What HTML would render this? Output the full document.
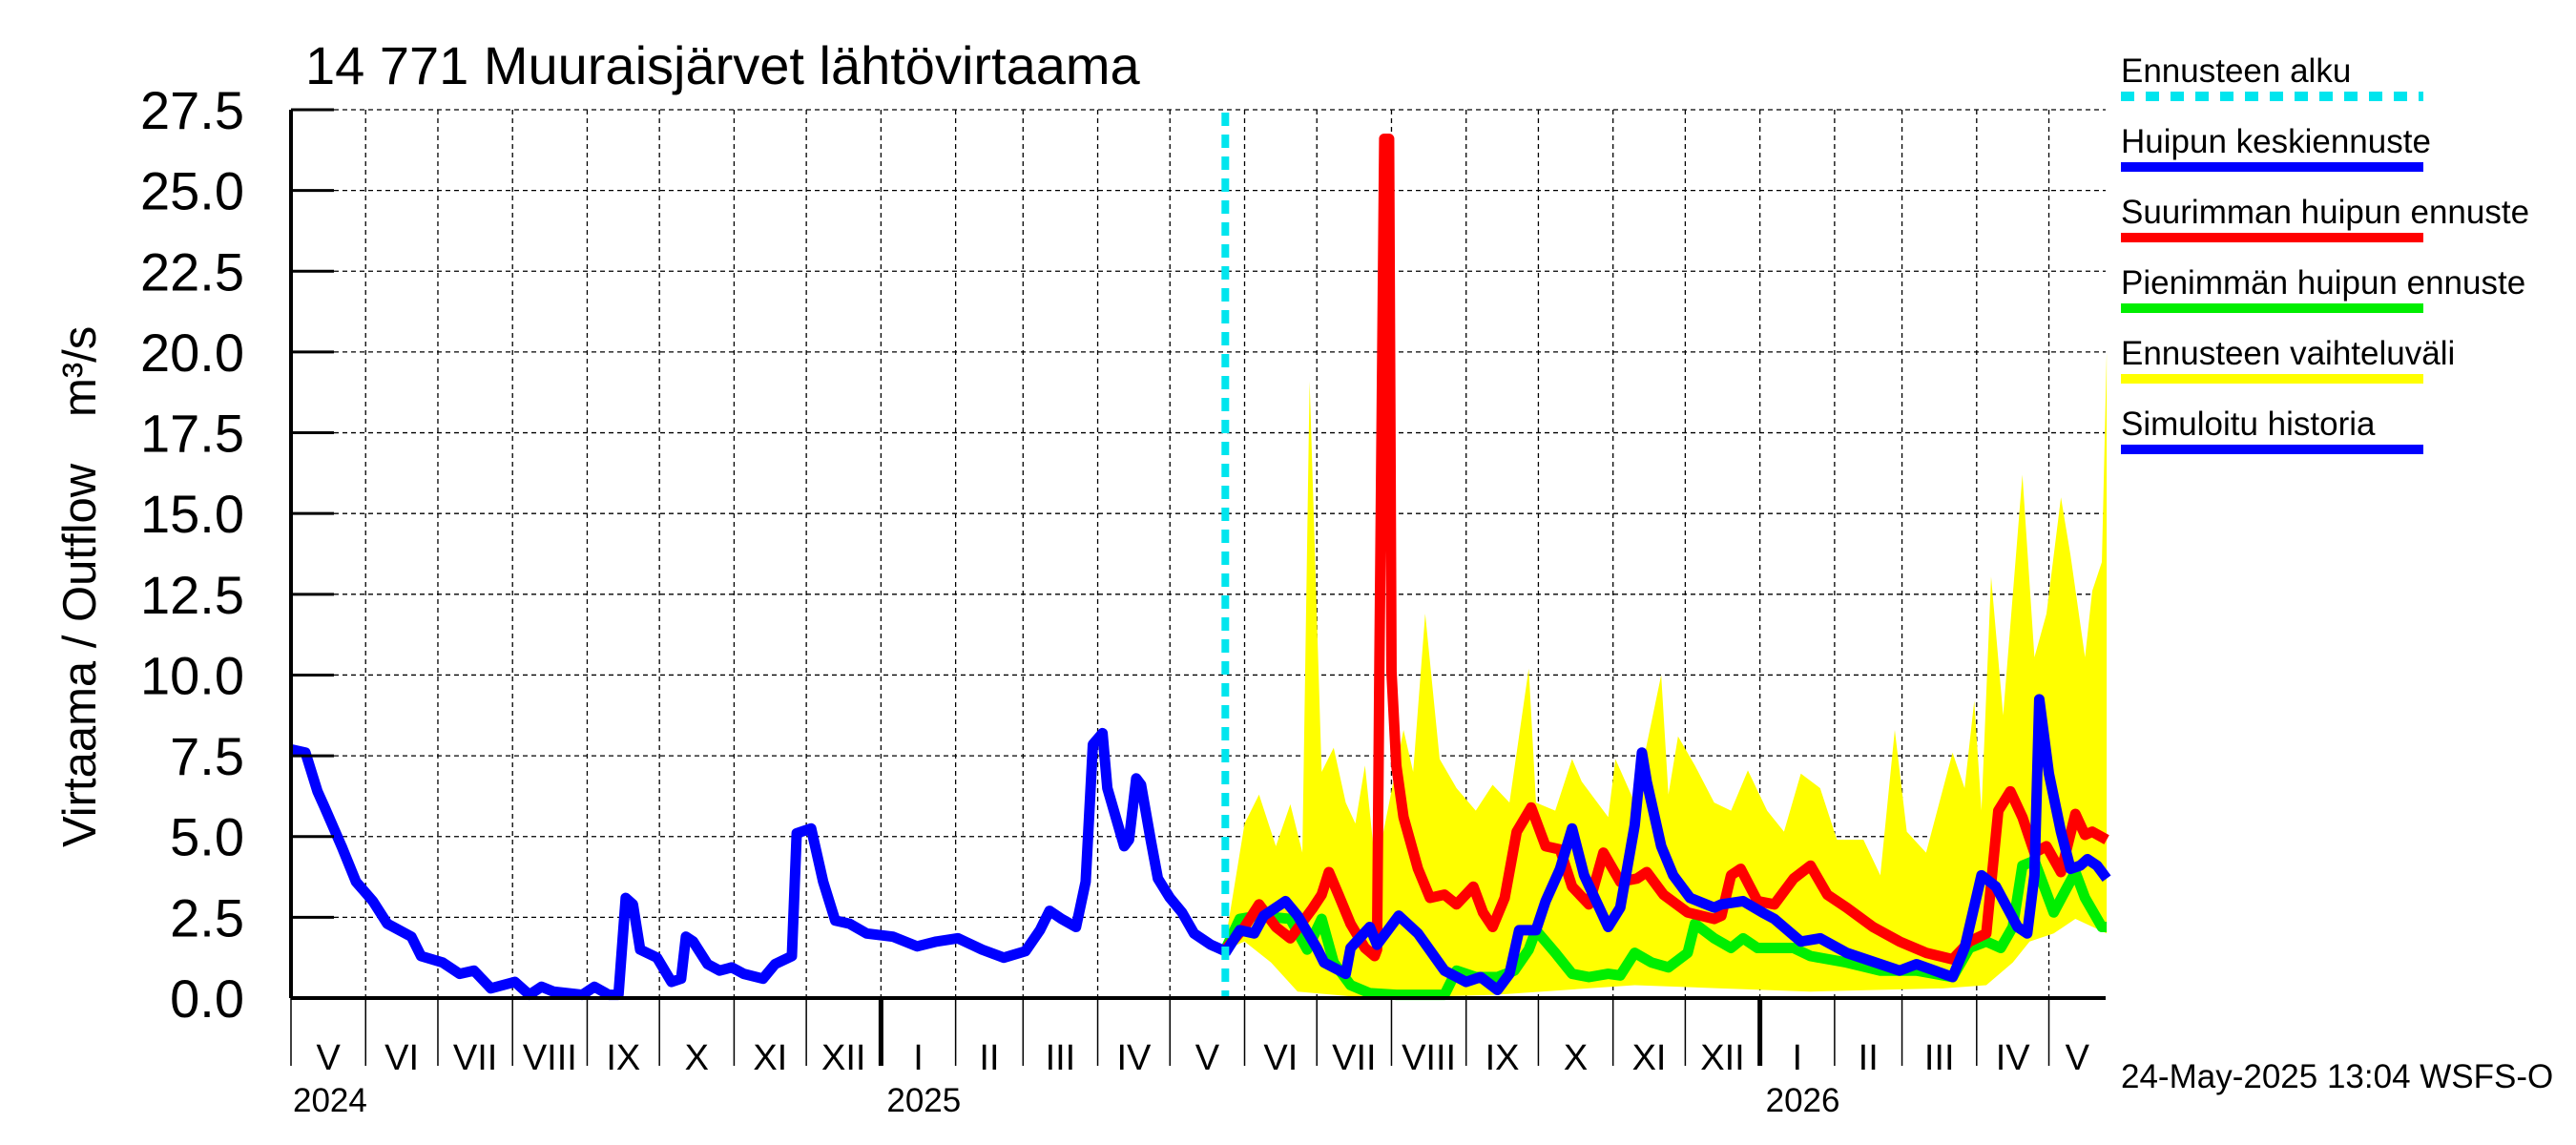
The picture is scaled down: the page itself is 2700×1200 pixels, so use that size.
<!DOCTYPE html>
<html><head><meta charset="utf-8"><style>
html,body{margin:0;padding:0;background:#fff;}
svg{display:block;font-family:"Liberation Sans",sans-serif;}
</style></head><body>
<svg id="chart" width="2700" height="1200" viewBox="0 0 2700 1200">
<text x="320" y="88" font-size="56">14 771 Muuraisjärvet lähtövirtaama</text>
<text transform="translate(100,888) rotate(-90)" font-size="49">Virtaama / Outflow</text>
<text transform="translate(100,437) rotate(-90)" font-size="49">m³/s</text>
<g id="grid"></g><g id="band"></g><g id="series"></g><g id="axes"></g><g id="legend"></g>
<text x="2223" y="1140" font-size="35">24-May-2025 13:04 WSFS-O</text>
</svg>
<script>
// Data: [day offset from 2024-05-01, value m3/s]
const yTicks = [0,2.5,5,7.5,10,12.5,15,17.5,20,22.5,25,27.5];
const monthNames = ["I","II","III","IV","V","VI","VII","VIII","IX","X","XI","XII"];
const forecastStartDay = 388;
const historyData = [[0,7.7],[6,7.6],[11,6.4],[14,5.9],[21,4.7],[27,3.6],[34,3.0],[40,2.3],[50,1.9],[54,1.3],[63,1.1],[70,0.75],[76,0.85],[83,0.3],[93,0.5],[99,0.1],[104,0.35],[109,0.2],[121,0.1],[126,0.35],[132,0.1],[136,0.1],[139,3.1],[142,2.9],[145,1.5],[152,1.25],[158,0.5],[162,0.6],[164,1.9],[167,1.75],[173,1.05],[178,0.85],[183,0.95],[188,0.75],[196,0.6],[201,1.05],[208,1.3],[210,5.1],[216,5.25],[221,3.6],[226,2.4],[232,2.3],[239,2.0],[250,1.9],[260,1.6],[268,1.75],[277,1.85],[287,1.5],[296,1.25],[305,1.45],[311,2.1],[315,2.7],[320,2.45],[326,2.2],[330,3.6],[333,7.85],[337,8.2],[339,6.5],[346,4.7],[348,4.9],[351,6.8],[353,6.6],[357,4.9],[360,3.7],[365,3.1],[370,2.65],[375,2.0],[382,1.65],[388,1.45]];
const meanForecast = [[388,1.4],[394,2.1],[400,2.0],[404,2.55],[413,3.0],[418,2.55],[426,1.55],[429,1.1],[438,0.75],[440,1.55],[448,2.2],[451,1.65],[460,2.55],[468,2.0],[479,0.85],[488,0.5],[494,0.65],[501,0.25],[506,0.75],[510,2.1],[517,2.1],[521,3.0],[527,4.0],[532,5.25],[537,3.8],[547,2.2],[552,2.8],[558,5.35],[561,7.6],[563,6.7],[569,4.7],[574,3.8],[581,3.1],[591,2.8],[594,2.9],[603,3.0],[611,2.65],[616,2.45],[627,1.75],[635,1.85],[646,1.4],[668,0.85],[675,1.05],[690,0.65],[695,1.55],[702,3.8],[708,3.45],[717,2.2],[721,2.0],[724,3.8],[726,9.25],[730,6.95],[735,5.15],[739,4.0],[743,4.1],[746,4.3],[750,4.1],[754,3.7]];
const maxForecast = [[388,1.5],[396,2.2],[402,2.9],[409,2.2],[415,1.85],[424,2.75],[428,3.2],[431,3.9],[435,3.2],[440,2.3],[446,1.55],[450,1.3],[451,1.5],[452,10.5],[454,26.6],[456,26.6],[457,10.1],[459,7.2],[462,5.6],[468,4.0],[473,3.1],[479,3.2],[484,2.9],[491,3.45],[495,2.65],[499,2.2],[504,3.1],[509,5.15],[515,5.9],[521,4.7],[527,4.6],[532,3.45],[539,2.9],[545,4.5],[552,3.6],[559,3.7],[563,3.9],[570,3.2],[580,2.65],[591,2.45],[594,2.55],[598,3.8],[602,4.0],[609,3.0],[616,2.9],[624,3.7],[631,4.1],[638,3.2],[646,2.8],[657,2.2],[668,1.75],[679,1.4],[690,1.2],[697,1.75],[704,2.0],[709,5.8],[714,6.4],[719,5.6],[724,4.5],[729,4.7],[735,3.9],[741,5.7],[745,5.05],[748,5.15],[754,4.9]];
const minForecast = [[388,1.5],[394,2.45],[402,2.55],[415,2.45],[422,1.5],[428,2.45],[433,1.1],[440,0.4],[448,0.15],[459,0.1],[479,0.1],[484,0.85],[492,0.65],[501,0.65],[508,0.85],[514,1.5],[517,2.1],[525,1.4],[532,0.75],[539,0.65],[547,0.75],[552,0.7],[558,1.4],[565,1.1],[572,0.95],[580,1.4],[583,2.3],[591,1.85],[598,1.55],[603,1.85],[609,1.55],[624,1.55],[631,1.3],[646,1.1],[660,0.85],[675,0.85],[690,0.65],[697,1.55],[704,1.75],[710,1.55],[715,2.2],[719,4.1],[724,4.25],[732,2.65],[737,3.35],[741,3.9],[745,3.1],[752,2.2],[754,2.2]];
const bandUpper = [[388,1.75],[396,5.4],[402,6.3],[409,4.7],[415,6.0],[420,4.5],[423,19.1],[428,7.0],[433,7.75],[438,6.05],[442,5.4],[446,7.2],[450,4.3],[453,4.9],[462,8.3],[466,7.0],[471,11.9],[477,7.4],[484,6.5],[492,5.8],[499,6.6],[506,6.05],[514,10.2],[517,6.05],[525,5.8],[532,7.4],[536,6.7],[547,5.6],[550,7.4],[558,6.05],[569,10.0],[572,6.3],[576,8.1],[583,7.2],[591,6.05],[598,5.8],[605,7.05],[613,5.8],[620,5.15],[627,6.95],[635,6.5],[642,4.9],[653,4.9],[660,3.8],[666,8.3],[671,5.15],[679,4.5],[690,7.6],[695,6.5],[699,9.2],[702,5.8],[706,13.05],[711,8.75],[719,16.2],[724,10.55],[729,11.9],[735,15.5],[739,13.7],[745,10.55],[748,12.6],[752,13.5],[754,20.0]];
const bandLower = [[388,1.5],[396,1.75],[407,1.1],[418,0.2],[448,0],[500,0.1],[558,0.4],[594,0.3],[631,0.2],[686,0.3],[704,0.4],[715,1.1],[722,1.75],[732,2.0],[741,2.45],[754,2.0]];

const NS="http://www.w3.org/2000/svg";
const X0=305,X1=2207,Y0=1046,Y1=115,PXD=2.524;
function xs(d){return X0+d*PXD;}
function ys(v){return Y0-(v/27.5)*(Y0-Y1);}
function mk(tag,attrs,parent){const e=document.createElementNS(NS,tag);for(const k in attrs)e.setAttribute(k,attrs[k]);parent.appendChild(e);return e;}
const grid=document.getElementById('grid'),axes=document.getElementById('axes'),band=document.getElementById('band'),series=document.getElementById('series'),legend=document.getElementById('legend');
const base=Date.UTC(2024,4,1);
function dayOf(y,m){return (Date.UTC(y,m,1)-base)/86400000;}

yTicks.forEach(v=>{
  if(v>0){const g=mk('line',{x1:X0,x2:X1,y1:ys(v),y2:ys(v),stroke:'#000','stroke-width':1.3,'stroke-dasharray':'5,4'},grid);
  
  }
  const t=mk('line',{x1:X0,x2:X0+45,y1:ys(v),y2:ys(v),stroke:'#000','stroke-width':3},axes);
  
  
  const l=mk('text',{x:256,y:ys(v)+20,'text-anchor':'end','font-size':56},axes);
  l.textContent=v.toFixed(1);
  
  
});
for(let i=0;i<26;i++){
  const y=2024+Math.floor((4+i)/12),m=(4+i)%12;
  const d0=dayOf(y,m),d1=dayOf(m==11?y+1:y,(m+1)%12);
  if(d0>754)break;
  const x=xs(d0);
  if(i>0){const g=mk('line',{x1:x,x2:x,y1:Y1,y2:Y0,stroke:'#000','stroke-width':1.3,'stroke-dasharray':'5,4'},grid);
  
  }
  const tk=mk('line',{x1:x,x2:x,y1:Y0,y2:1117,stroke:'#000','stroke-width':m==0?5:1.5},axes);
  
  
  const xc=(xs(d0)+Math.min(xs(d1),X1))/2;
  const t=mk('text',{x:xc,y:1121,'text-anchor':'middle','font-size':38},axes);
  t.textContent=monthNames[m];
  
  
  if(m==0||i==0){const yl=mk('text',{x:i==0?307:x+6,y:1165,'font-size':35},axes);
  yl.textContent=String(y);
  
  }
}
const la=mk('line',{x1:X0,x2:X0,y1:Y1,y2:Y0,stroke:'#000','stroke-width':4},axes);


const ba=mk('line',{x1:X0,x2:X1,y1:Y0,y2:Y0,stroke:'#000','stroke-width':4},axes);


const pts=bandUpper.map(p=>xs(p[0])+','+ys(p[1])).concat(bandLower.slice().reverse().map(p=>xs(p[0])+','+ys(p[1])));
const bp=mk('polygon',{points:pts.join(' '),fill:'#ffff00',stroke:'none'},band);


function line(data,color,name){const p=mk('polyline',{points:data.map(p=>xs(p[0])+','+ys(p[1])).join(' '),fill:'none',stroke:color,'stroke-width':11,'stroke-linejoin':'round'},series);}
line(minForecast,'#00ee00','min-peak-forecast-line');
line(maxForecast,'#ff0000','max-peak-forecast-line');
line(meanForecast,'#0000ff','mean-peak-forecast-line');
line(historyData,'#0000ff','simulated-history-line');
const fx=xs(forecastStartDay);
const fl=mk('line',{x1:fx,x2:fx,y1:Y1+3,y2:Y0,stroke:'#00e5ee','stroke-width':8,'stroke-dasharray':'14,9'},series);


const leg=[["Ennusteen alku","#00e5ee",true],["Huipun keskiennuste","#0000ff"],["Suurimman huipun ennuste","#ff0000"],["Pienimmän huipun ennuste","#00ee00"],["Ennusteen vaihteluväli","#ffff00"],["Simuloitu historia","#0000ff"]];
leg.forEach((e,i)=>{
  const ty=86+i*74;
  const t=mk('text',{x:2223,y:ty,'font-size':35},legend);
  t.textContent=e[0];
  
  
  const a={x1:2223,x2:2540,y1:ty+15,y2:ty+15,stroke:e[1],'stroke-width':10};
  if(e[2])a['stroke-dasharray']='14,12';
  const l=mk('line',a,legend);
  
  
});
</script>
</body></html>
